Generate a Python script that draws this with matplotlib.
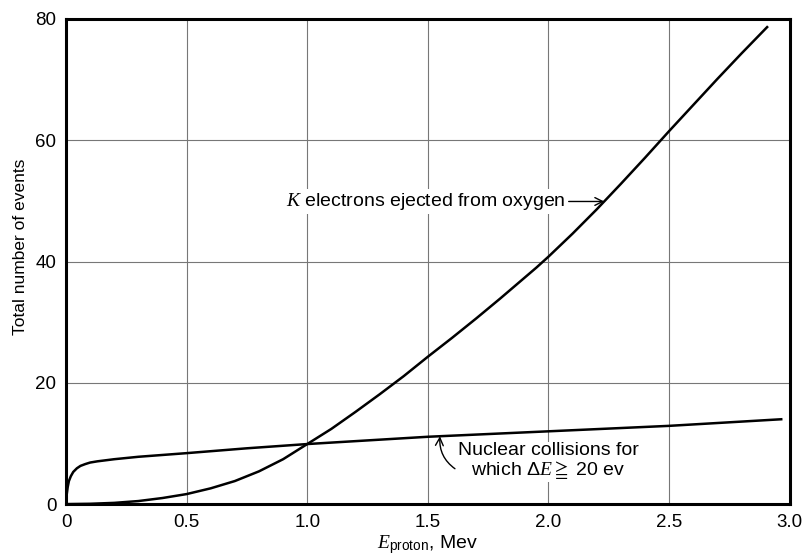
import matplotlib
matplotlib.use('Agg')
import matplotlib.pyplot as plt
import numpy as np

plt.rcParams['font.family'] = ['Liberation Sans', 'DejaVu Sans']
plt.rcParams['mathtext.fontset'] = 'custom'
plt.rcParams['mathtext.rm'] = 'Liberation Sans'
plt.rcParams['mathtext.it'] = 'Liberation Serif:italic'
plt.rcParams['mathtext.sf'] = 'Liberation Sans'
plt.rcParams['mathtext.fallback'] = 'stix'

# K-shell electrons ejected from oxygen
k_energy = [0, 0.1, 0.2, 0.3, 0.4, 0.5, 0.6, 0.7, 0.8, 0.9, 1.0, 1.1, 1.2, 1.3, 1.4,
            1.5, 1.6, 1.7, 1.8, 1.9, 1.95, 2.0, 2.05, 2.1, 2.15, 2.2, 2.3, 2.4, 2.5,
            2.6, 2.7, 2.8, 2.91]
k_events = [0, 0.05, 0.2, 0.5, 1.0, 1.65, 2.6, 3.8, 5.4, 7.4, 9.9, 12.4, 15.2, 18.1, 21.1,
            24.3, 27.4, 30.6, 33.9, 37.3, 39.0, 40.8, 42.7, 44.6, 46.6, 48.6, 52.8, 57.1, 61.5,
            65.8, 70.1, 74.3, 78.8]

# nuclear collisions with energy transfer >= 20 ev
n_energy = [0, 0.003, 0.007, 0.012, 0.02, 0.03, 0.045, 0.06, 0.08, 0.1, 0.13, 0.17,
            0.2, 0.3, 0.5, 0.75, 1.0, 1.25, 1.5, 2.0, 2.5, 2.97]
n_events = [0, 1.6, 2.8, 3.8, 4.6, 5.3, 5.9, 6.3, 6.6, 6.85, 7.05, 7.25,
            7.4, 7.8, 8.4, 9.2, 9.9, 10.5, 11.1, 12.0, 12.9, 14.0]

x_ticks = [0, 0.5, 1.0, 1.5, 2.0, 2.5, 3.0]
x_labels = ['0', '0.5', '1.0', '1.5', '2.0', '2.5', '3.0']
y_ticks = [0, 20, 40, 60, 80]

fig = plt.figure(figsize=(8.05, 5.57), dpi=100)
ax = fig.add_axes([0.082, 0.095, 0.899, 0.871])

ax.plot(k_energy, k_events, color='black', lw=1.8, solid_capstyle='butt', zorder=3)
ax.plot(n_energy, n_events, color='black', lw=1.8, solid_capstyle='butt', zorder=3)

ax.set_xlim(0, 3.0)
ax.set_ylim(0, 80)
ax.set_xticks(x_ticks)
ax.set_xticklabels(x_labels)
ax.set_yticks(y_ticks)
ax.tick_params(length=0, labelsize=13.5, pad=7)
ax.grid(True, color='#777777', lw=0.8)
for s in ax.spines.values():
    s.set_linewidth(2.2)

ax.set_xlabel(r'$E_{\mathrm{proton}}$, Mev', fontsize=14, labelpad=2)
ax.set_ylabel('Total number of events', fontsize=12.5)
ax.yaxis.set_label_coords(-0.053, 0.53)

# arrow from the label to the K curve
k_tip = np.interp(49.9, k_events, k_energy)
ax.annotate(r'$K$ electrons ejected from oxygen', xy=(k_tip, 49.9), xytext=(2.07, 49.9),
            ha='right', va='center', fontsize=14, zorder=4,
            bbox=dict(boxstyle='square,pad=0.1', fc='white', ec='none'),
            arrowprops=dict(arrowstyle='->', color='black', lw=1.0,
                            shrinkA=1, shrinkB=0))

n_tip = 1.55
ax.annotate('Nuclear collisions for\nwhich $\\Delta E \\geqq$ 20 ev',
            xy=(n_tip, np.interp(n_tip, n_energy, n_events)), xytext=(2.0, 7.1),
            ha='center', va='center', fontsize=14, linespacing=1.0, zorder=4,
            bbox=dict(boxstyle='square,pad=0.1', fc='white', ec='none'),
            arrowprops=dict(arrowstyle='->', color='black', lw=1.0,
                            relpos=(0.0, 0.25), connectionstyle='arc3,rad=-0.3',
                            shrinkA=1, shrinkB=0))

plt.savefig('out.png')
plt.close()
